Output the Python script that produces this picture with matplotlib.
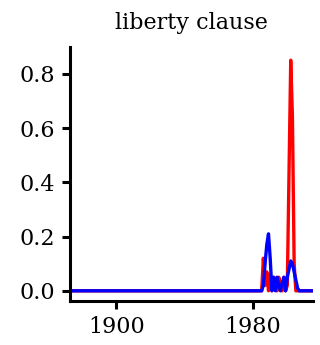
import matplotlib
matplotlib.use("Agg")
import matplotlib.pyplot as plt
import numpy as np

years = list(range(1873, 2015))
# non-zero values (year -> value); all other years are zero
red_nonzero = {1986: 0.12, 1987: 0.02, 1988: 0.07, 1989: 0.0, 1990: 0.06,
               1991: 0.0, 1992: 0.05, 1993: 0.04, 1994: 0.0, 1995: 0.05,
               1996: 0.02, 1997: 0.0, 1998: 0.05, 1999: 0.0, 2000: 0.02,
               2001: 0.44, 2002: 0.85, 2003: 0.64, 2004: 0.1}
blue_nonzero = {1986: 0.02, 1987: 0.1, 1988: 0.17, 1989: 0.21, 1990: 0.12,
                1991: 0.0, 1992: 0.05, 1993: 0.0, 1994: 0.05, 1995: 0.02,
                1996: 0.0, 1997: 0.03, 1998: 0.05, 1999: 0.0, 2000: 0.05,
                2001: 0.08, 2002: 0.11, 2003: 0.1, 2004: 0.07, 2005: 0.04,
                2006: 0.01}
red_values = [red_nonzero.get(y, 0.0) for y in years]
blue_values = [blue_nonzero.get(y, 0.0) for y in years]
title = "liberty clause"
x_ticks = [1900, 1980]
y_ticks = [0.0, 0.2, 0.4, 0.6, 0.8]

plt.rcParams['font.family'] = ['DejaVu Serif']
fig = plt.figure(figsize=(3.2, 3.45), dpi=100)
ax = fig.add_axes([0.219, 0.128, 0.759, 0.736])
ax.plot(years, red_values, color='#ff0000', lw=2.4)
ax.plot(years, blue_values, color='#0000ff', lw=2.4)
ax.set_xlim(1873, 2015)
ax.set_ylim(-0.037, 0.899)
ax.set_xticks(x_ticks)
ax.set_yticks(y_ticks)
ax.set_yticklabels([f"{v:.1f}" for v in y_ticks])
for s in ['top', 'right']:
    ax.spines[s].set_visible(False)
for s in ['left', 'bottom']:
    ax.spines[s].set_linewidth(2.2)
ax.tick_params(length=6, width=2.2, labelsize=16, pad=5)
ax.set_title(title, fontsize=16, pad=13)
fig.savefig("out.png", dpi=100)
